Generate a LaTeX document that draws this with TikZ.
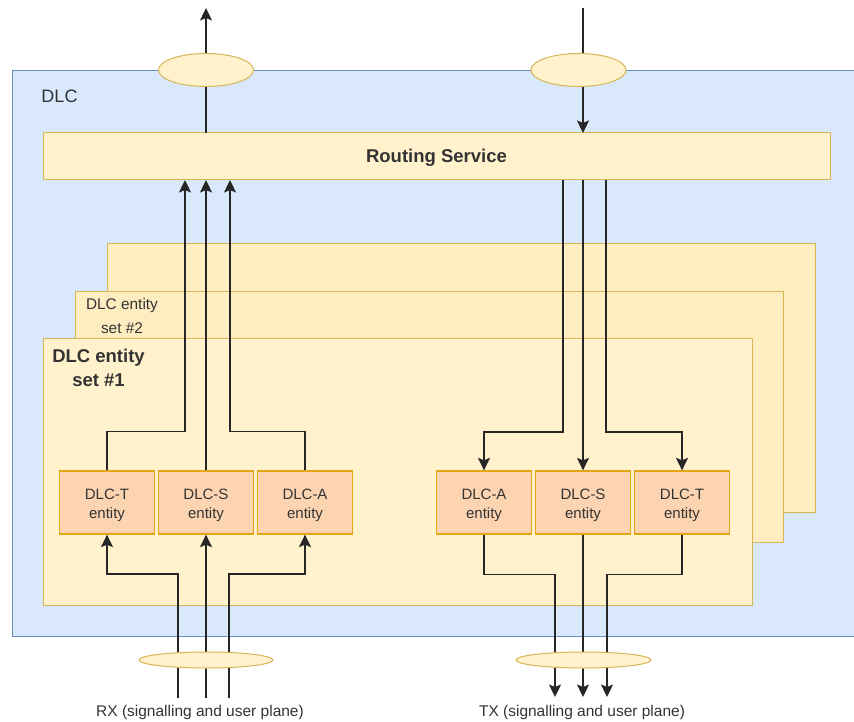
\documentclass[tikz,border=0pt]{standalone}
\usepackage{fontspec}
\setmainfont{Liberation Sans}
\usetikzlibrary{shapes.geometric,arrows.meta}

\definecolor{dlcfill}{HTML}{DAE8FC}
\definecolor{dlcline}{HTML}{6C8EBF}
\definecolor{setfill}{HTML}{FFF2CC}
\definecolor{setback}{HTML}{FFEDC2}
\definecolor{setline}{HTML}{D6B656}
\definecolor{entfill}{HTML}{FDD4B1}
\definecolor{entline}{HTML}{E3A615}
\definecolor{txt}{HTML}{333333}

\tikzset{
  box/.style={draw, rectangle, inner sep=0pt, line width=1pt},
  dlcbox/.style={box, draw=dlcline, fill=dlcfill},
  setbox/.style={box, draw=setline, fill=setfill},
  setboxback/.style={box, draw=setline, fill=setback},
  entlbl/.style={text=txt, inner sep=0pt, align=center, yshift=-3pt,
    font=\fontsize{15}{19}\selectfont},
  entbox/.style={box, draw=entline, fill=entfill, line width=1.3pt,
    minimum width=95pt, minimum height=63pt,
    label={[entlbl]center:{#1\\entity}}},
  port/.style={draw=setline, fill=setfill, ellipse, line width=1pt, inner sep=0pt},
  flow/.style={line width=1.5pt, draw=black!85, -{Stealth[length=12.5pt,width=12pt,inset=2.5pt]}},
  lbl/.style={text=txt, inner sep=0pt, align=center}
}

\begin{document}
\begin{tikzpicture}[x=1pt, y=-1pt]
\useasboundingbox (0,0) rectangle (854,722);
\fill[white] (0,0) rectangle (854,722);

% outer DLC layer
\node[dlcbox, minimum width=848pt, minimum height=566pt, anchor=north west] (dlc) at (12,70) {};
\node[lbl, font=\fontsize{18}{22}\selectfont] (dlclbl) at (59.5,96) {DLC};

% routing service
\node[box, draw=setline, fill=setfill, minimum width=787pt, minimum height=47pt] (rs) at (436.5,156.5) {};
\node[lbl, font=\bfseries\fontsize{18.5}{20}\selectfont, yshift=-1.5pt] (rslbl) at (rs.center) {Routing Service};

% stacked entity sets
\node[setboxback, minimum width=708pt, minimum height=269pt, anchor=north west] (set3) at (107,243) {};
\node[setboxback, minimum width=708pt, minimum height=251pt, anchor=north west] (set2) at (75,291) {};
\node[setbox, minimum width=709pt, minimum height=267pt, anchor=north west] (set1) at (43,338) {};

\node[lbl, font=\fontsize{15.4}{24}\selectfont, anchor=north] (set2lbl) at (122,298) {DLC entity\\set \#2};
\node[lbl, font=\bfseries\fontsize{18.5}{23.5}\selectfont, anchor=north] (set1lbl) at (98.5,349) {DLC entity\\set \#1};

% entities, receive side
\node[entbox=DLC-T] (lT) at (107,502.5) {};
\node[entbox=DLC-S] (lS) at (206,502.5) {};
\node[entbox=DLC-A] (lA) at (305,502.5) {};
% entities, transmit side
\node[entbox=DLC-A] (rA) at (484,502.5) {};
\node[entbox=DLC-S] (rS) at (583,502.5) {};
\node[entbox=DLC-T] (rT) at (682,502.5) {};

% ports on the routing service
\coordinate (rsp1) at (185,180);
\coordinate (rsp2) at (206,180);
\coordinate (rsp3) at (230,180);
\coordinate (rsq1) at (563,180);
\coordinate (rsq2) at (583,180);
\coordinate (rsq3) at (606,180);
\coordinate (rsup) at (206,133);
\coordinate (rsdn) at (583,133);
\coordinate (topout) at (206,8);
\coordinate (topin) at (583,8);

% external ends
\coordinate (rx1) at (178,698);
\coordinate (rx2) at (206,698);
\coordinate (rx3) at (229,698);
\coordinate (tx1) at (555,697);
\coordinate (tx2) at (583,697);
\coordinate (tx3) at (607,697);

% upper interface
\draw[flow] (rsup) -- (topout);
\draw[flow] (topin) -- (rsdn);

% entities up to routing
\draw[flow] (lT.north) -- ++(0,-39) -| (rsp1);
\draw[flow] (lS.north) -- (rsp2);
\draw[flow] (lA.north) -- ++(0,-39) -| (rsp3);

% routing down to entities
\draw[flow] (rsq1) -- ++(0,252) -| (rA.north);
\draw[flow] (rsq2) -- (rS.north);
\draw[flow] (rsq3) -- ++(0,252) -| (rT.north);

% receive inputs
\draw[flow] (rx1) -- ++(0,-124) -| (lT.south);
\draw[flow] (rx2) -- (lS.south);
\draw[flow] (rx3) -- ++(0,-124) -| (lA.south);

% transmit outputs
\draw[flow] (rA.south) -- ++(0,40) -| (tx1);
\draw[flow] (rS.south) -- (tx2);
\draw[flow] (rT.south) -- ++(0,40) -| (tx3);

% SAP ellipses
\node[port, minimum width=95pt, minimum height=33pt] (sapup) at (206,70) {};
\node[port, minimum width=95pt, minimum height=33pt] (sapdn) at (578.5,70) {};
\node[port, minimum width=134pt, minimum height=16pt] (saprx) at (206,660) {};
\node[port, minimum width=135pt, minimum height=16pt] (saptx) at (583.5,660) {};

% interface labels
\node[lbl, font=\fontsize{15.5}{18}\selectfont] (rxlbl) at (200,712) {RX (signalling and user plane)};
\node[lbl, font=\fontsize{15.5}{18}\selectfont] (txlbl) at (582,712) {TX (signalling and user plane)};
\end{tikzpicture}
\end{document}
